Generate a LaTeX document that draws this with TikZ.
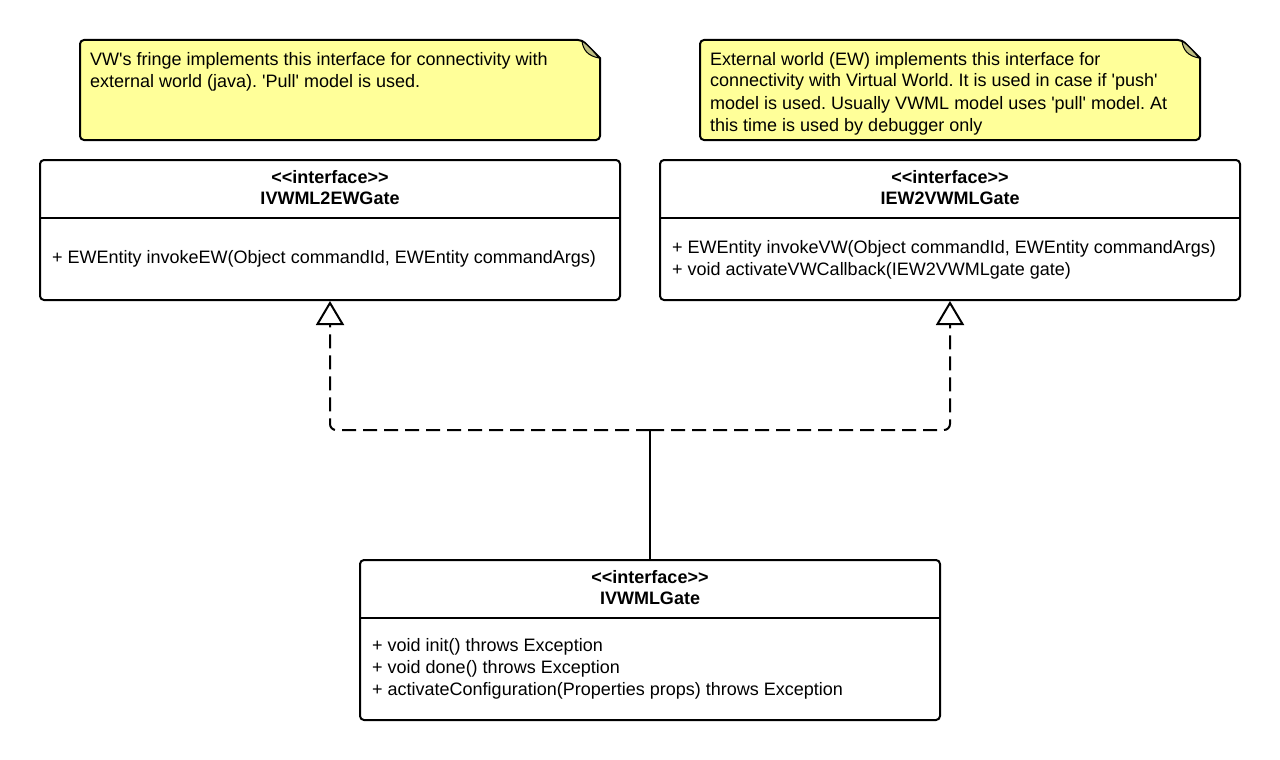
\documentclass[tikz,border=0pt]{standalone}
\usepackage{fontspec}
\newfontfamily\lsans{Liberation Sans}
\usetikzlibrary{arrows.meta}
\definecolor{notefill}{RGB}{255,255,153}
\definecolor{foldfill}{RGB}{190,190,128}
\frenchspacing
\begin{document}
\begin{tikzpicture}[x=1pt,y=-1pt,
  txt/.style={inner sep=0pt, anchor=base west, align=left, font=\lsans\frenchspacing\fontsize{18}{22}\selectfont},
  ctr/.style={inner sep=0pt, anchor=base, font=\lsans\fontsize{18}{22}\selectfont\bfseries},
  classbox/.style={draw, line width=2pt, rounded corners=4pt, fill=white, inner sep=0pt},
  sep/.style={line width=2pt},
  notepath/.style={draw, line width=2pt, fill=notefill, rounded corners=4pt},
  realize/.style={line width=2pt, dash pattern=on 14pt off 7pt, rounded corners=6pt,
    -{Triangle[open, fill=white, length=24pt, width=28pt, line width=2pt]}},
  solidline/.style={line width=2pt, rounded corners=6pt}]
\useasboundingbox (0,0) rectangle (1280,760);

% notes
\draw[notepath] (80,40) -- (582,40) [sharp corners] -- (600,58) [rounded corners=4pt] -- (600,140) -- (80,140) -- cycle;
\fill[foldfill, draw=black, line width=1pt] (582,41) .. controls (583,50) and (588,56) .. (599,58) .. controls (594,52) and (588,45) .. (582,41) -- cycle;
\node[txt] (n1) at (90,88) {VW's fringe implements this interface for connectivity with\\external world (java). 'Pull' model is used.};

\draw[notepath] (700,40) -- (1182,40) [sharp corners] -- (1200,58) [rounded corners=4pt] -- (1200,140) -- (700,140) -- cycle;
\fill[foldfill, draw=black, line width=1pt] (1182,41) .. controls (1183,50) and (1188,56) .. (1199,58) .. controls (1194,52) and (1188,45) .. (1182,41) -- cycle;
\node[txt] (n2) at (710,131) {External world (EW) implements this interface for\\connectivity with Virtual World. It is used in case if 'push'\\model is used. Usually VWML model uses 'pull' model. At\\this time is used by debugger only};

% classes
\node[classbox, minimum width=580pt, minimum height=140pt] (c1) at (330,230) {};
\draw[sep] (40,218) -- (620,218);
\node[ctr] (c1s) at (330,183) {<<interface>>};
\node[ctr] (c1n) at (330,204) {IVWML2EWGate};
\node[txt] (c1m) at (52,263) {+ EWEntity invokeEW(Object commandId, EWEntity commandArgs)};

\node[classbox, minimum width=580pt, minimum height=140pt] (c2) at (950,230) {};
\draw[sep] (660,218) -- (1240,218);
\node[ctr] (c2s) at (950,183) {<<interface>>};
\node[ctr] (c2n) at (950,204) {IEW2VWMLGate};
\node[txt] (c2m) at (672,275) {+ EWEntity invokeVW(Object commandId, EWEntity commandArgs)\\+ void activateVWCallback(IEW2VWMLgate gate)};

\node[classbox, minimum width=580pt, minimum height=160pt] (c3) at (650,640) {};
\draw[sep] (360,618) -- (940,618);
\node[ctr] (c3s) at (650,583) {<<interface>>};
\node[ctr] (c3n) at (650,604) {IVWMLGate};
\node[txt] (c3m) at (372,695) {+ void init() throws Exception\\+ void done() throws Exception\\+ activateConfiguration(Properties props) throws Exception};

% connectors
\coordinate (j) at (650,430);
\draw[solidline] (c3.north) -- (j);
\draw[realize] (j) -| (c1.south);
\draw[realize] (j) -| (c2.south);
\end{tikzpicture}
\end{document}
